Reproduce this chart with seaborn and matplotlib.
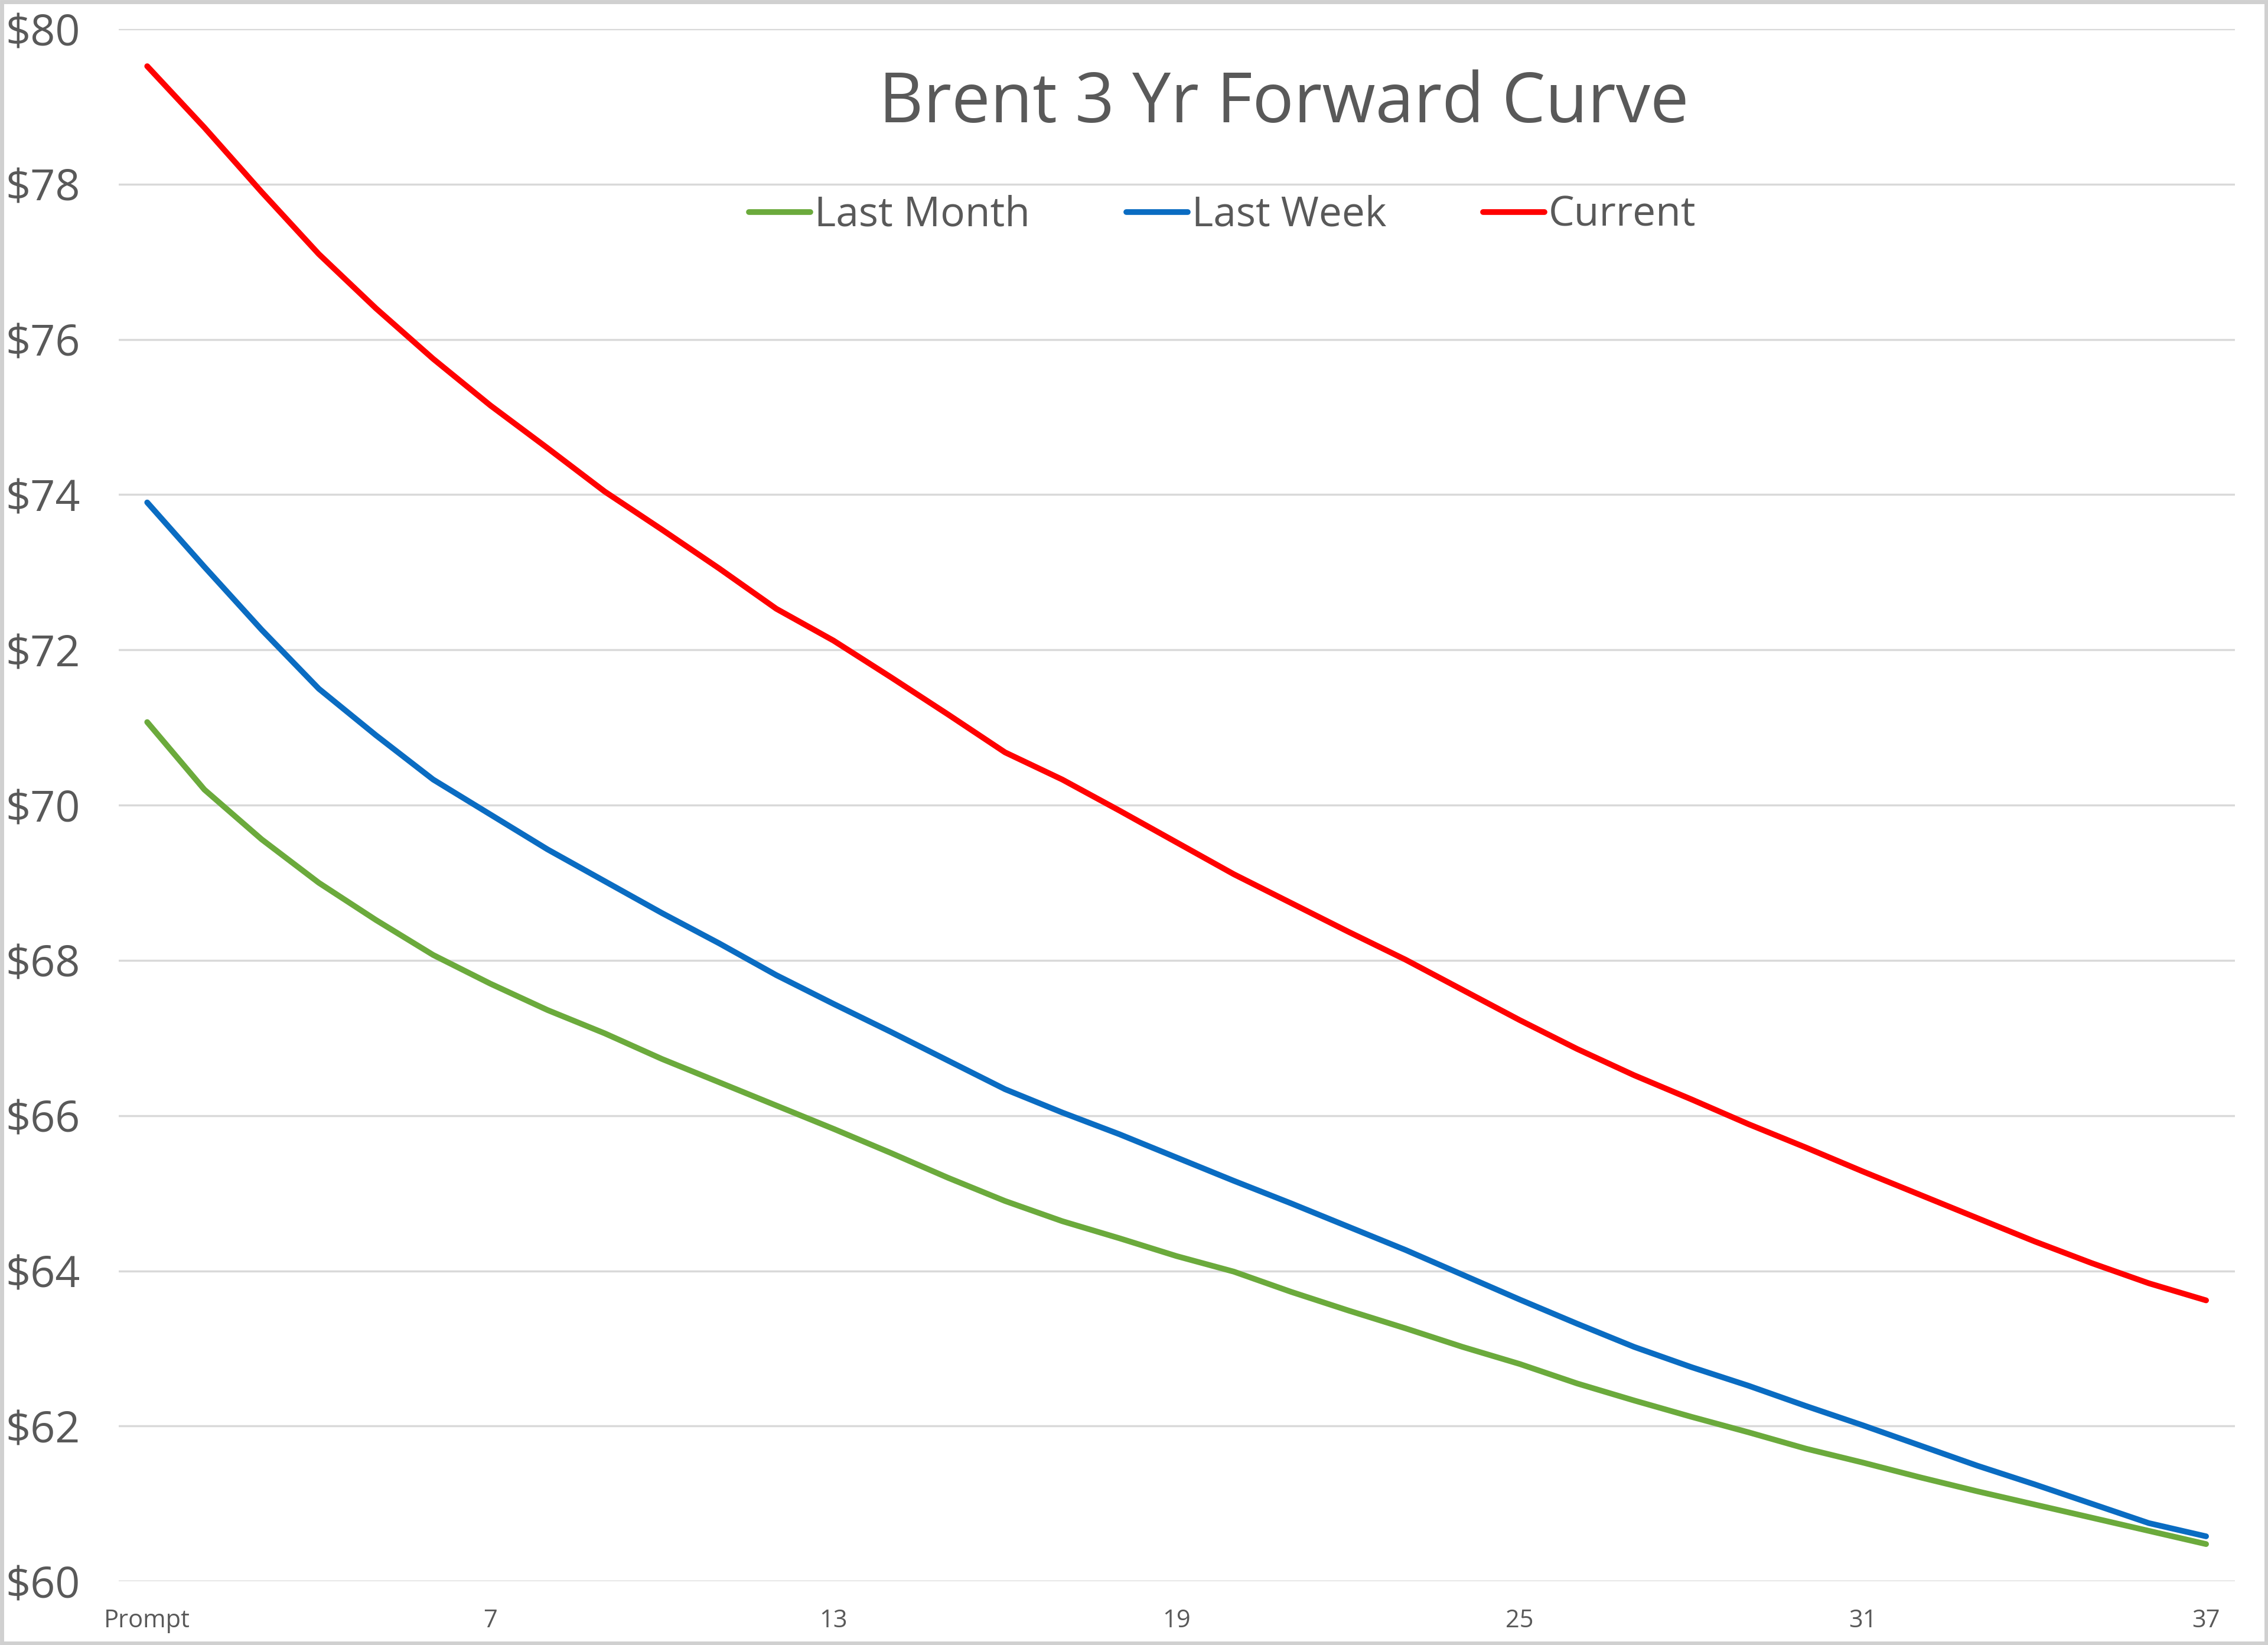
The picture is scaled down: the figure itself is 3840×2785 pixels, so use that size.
import numpy as np
import pandas as pd
import matplotlib
matplotlib.use("Agg")
import matplotlib.pyplot as plt
import seaborn as sns
from matplotlib.patches import Rectangle

months = list(range(1, 38))
tick_positions = [1, 7, 13, 19, 25, 31, 37]
tick_labels = ["Prompt", "7", "13", "19", "25", "31", "37"]
y_ticks = list(range(60, 81, 2))

last_month = [71.07, 70.20, 69.56, 69.00, 68.52, 68.07, 67.70, 67.36, 67.06, 66.73,
              66.43, 66.13, 65.83, 65.52, 65.20, 64.90, 64.64, 64.42, 64.19, 63.99,
              63.73, 63.49, 63.26, 63.02, 62.80, 62.55, 62.33, 62.12, 61.92, 61.71,
              61.53, 61.34, 61.16, 60.99, 60.82, 60.65, 60.48]
last_week = [73.90, 73.07, 72.26, 71.50, 70.90, 70.33, 69.88, 69.43, 69.02, 68.61,
             68.22, 67.81, 67.44, 67.08, 66.71, 66.34, 66.04, 65.76, 65.46, 65.16,
             64.87, 64.57, 64.27, 63.95, 63.63, 63.32, 63.02, 62.76, 62.52, 62.26,
             62.01, 61.75, 61.49, 61.25, 61.00, 60.75, 60.58]
current = [79.52, 78.73, 77.90, 77.10, 76.40, 75.75, 75.15, 74.60, 74.04, 73.55,
           73.05, 72.53, 72.12, 71.65, 71.17, 70.68, 70.33, 69.93, 69.52, 69.11,
           68.74, 68.37, 68.01, 67.62, 67.23, 66.86, 66.52, 66.21, 65.89, 65.59,
           65.28, 64.98, 64.68, 64.38, 64.10, 63.84, 63.62]

series_names = ["Last Month", "Last Week", "Current"]
colors = {"Last Month": "#6BAA3C", "Last Week": "#0A6CC2", "Current": "#FF0000"}

df = pd.concat([
    pd.DataFrame({"month": months, "price": last_month, "series": "Last Month"}),
    pd.DataFrame({"month": months, "price": last_week, "series": "Last Week"}),
    pd.DataFrame({"month": months, "price": current, "series": "Current"}),
])

sns.set_style("white")
plt.rcParams["font.family"] = ["Open Sans", "DejaVu Sans"]
text_color = "#595959"

fig = plt.figure(figsize=(38.40, 27.85), dpi=100)
ax = fig.add_axes([0.0523, 0.0387, 0.9853 - 0.0523, 0.9824 - 0.0387])

sns.lineplot(data=df, x="month", y="price", hue="series", hue_order=series_names,
             palette=colors, linewidth=7, ax=ax, legend=False, zorder=3)

ax.set_xlim(0.5, 37.5)
ax.set_ylim(60, 80)
ax.set_yticks(y_ticks)
ax.set_yticklabels([f"${v}" for v in y_ticks])
ax.set_xticks(tick_positions)
ax.set_xticklabels(tick_labels)
ax.grid(axis="y", color="#D9D9D9", linewidth=2.5, zorder=0)
ax.grid(axis="x", visible=False)
for s in ax.spines.values():
    s.set_visible(False)
ax.tick_params(axis="y", length=0, pad=47, labelsize=53, labelcolor=text_color)
ax.tick_params(axis="x", length=0, pad=33, labelsize=30, labelcolor=text_color)
ax.set_xlabel("")
ax.set_ylabel("")

fig.text(0.566, 0.9365, "Brent 3 Yr Forward Curve", ha="center", va="center",
         fontsize=84, color=text_color)

handles = [plt.Line2D([], [], color=colors[n], linewidth=7) for n in series_names]
fig.legend(handles, series_names, loc="center", bbox_to_anchor=(0.539, 0.869), ncol=3,
           frameon=False, fontsize=50, labelcolor=text_color, handlelength=1.5,
           handletextpad=0.1, columnspacing=2.35)

fig.patches.append(Rectangle((0.0008, 0.001), 0.9984, 0.998, transform=fig.transFigure,
                             fill=False, edgecolor="#D0D0D0", linewidth=5))

fig.savefig("out.png", dpi=100, facecolor="white")
